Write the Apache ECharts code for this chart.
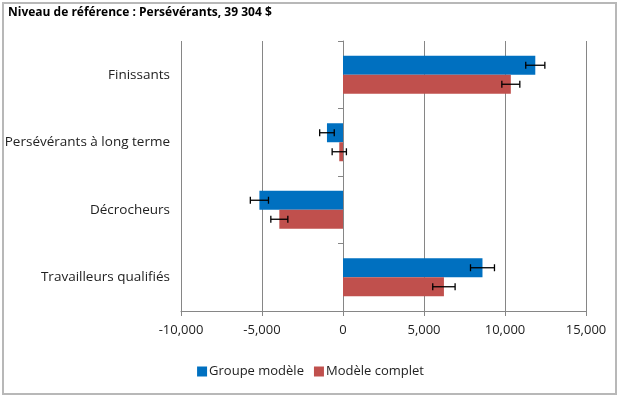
<!DOCTYPE html>
<html>
<head>
<meta charset="utf-8">
<script src="https://cdn.jsdelivr.net/npm/echarts@6/dist/echarts.min.js"></script>
<style>
  html, body { margin: 0; padding: 0; background: #fff; }
  #frame { position: absolute; left: 2px; top: 2px; width: 611px; height: 389px; border: 2px solid #b8b8b8; }
  #chart { position: absolute; left: 0; top: 0; width: 621px; height: 398px; }
</style>
</head>
<body>
<div id="frame"></div>
<div id="chart"></div>
<script>
var categories = ['Finissants', 'Persévérants à long terme', 'Décrocheurs', 'Travailleurs qualifiés'];
var groupeModele = [11870, -990, -5160, 8610];
var groupeModeleErr = [590, 450, 560, 740];
var modeleComplet = [10360, -230, -3930, 6230];
var modeleCompletErr = [555, 440, 525, 690];
var xTicks = [-10000, -5000, 0, 5000, 10000, 15000];

var fontFam = '"Open Sans", "DejaVu Sans", sans-serif';
var barW = 19;

function errorSeries(name, vals, errs, shift) {
  var d = [];
  for (var i = 0; i < vals.length; i++) {
    d.push([i, vals[i] - errs[i], vals[i] + errs[i]]);
  }
  return {
    name: name + ' err',
    type: 'custom',
    yAxisIndex: 0,
    silent: true,
    z: 10,
    data: d,
    encode: { x: [1, 2], y: 0 },
    renderItem: function (params, api) {
      var cat = api.value(0);
      var lo = api.coord([api.value(1), cat]);
      var hi = api.coord([api.value(2), cat]);
      var y = lo[1] + shift;
      var h = 3.5;
      var st = { stroke: '#000', lineWidth: 1.3 };
      return {
        type: 'group',
        children: [
          { type: 'line', shape: { x1: lo[0], y1: y, x2: hi[0], y2: y }, style: st },
          { type: 'line', shape: { x1: lo[0], y1: y - h, x2: lo[0], y2: y + h }, style: st },
          { type: 'line', shape: { x1: hi[0], y1: y - h, x2: hi[0], y2: y + h }, style: st }
        ]
      };
    }
  };
}

var myChart = echarts.init(document.getElementById('chart'));
var option = {
  animation: false,
  title: {
    text: 'Niveau de référence : Persévérants, 39 304 $',
    left: 8, top: 7, padding: 0,
    textStyle: { fontFamily: fontFam, fontSize: 12, fontWeight: 'bold', color: '#000' }
  },
  legend: {
    data: ['Groupe modèle', 'Modèle complet'],
    bottom: 15,
    left: 'center',
    itemWidth: 10, itemHeight: 10, itemGap: 10,
    icon: 'rect',
    textStyle: { fontFamily: fontFam, fontSize: 13, color: '#222', padding: [0, 0, 0, -3] }
  },
  grid: { left: 181, right: 35, top: 41, bottom: 87, containLabel: false },
  xAxis: {
    type: 'value',
    min: -10000, max: 15000, interval: 5000,
    axisLine: { show: true, onZero: false, lineStyle: { color: '#868686' } },
    axisTick: { show: true, length: 5, lineStyle: { color: '#868686' } },
    splitLine: { show: true, lineStyle: { color: '#868686', width: 1 } },
    axisLabel: {
      fontFamily: fontFam, fontSize: 13, color: '#222', margin: 13,
      formatter: function (v) { return xTicks.indexOf(v) >= 0 ? v.toLocaleString('en-US') : ''; }
    }
  },
  yAxis: [{
    type: 'category',
    data: categories,
    inverse: true,
    axisLine: { show: true, onZero: true, lineStyle: { color: '#868686' } },
    axisTick: { show: true, length: 5, lineStyle: { color: '#868686' } },
    axisLabel: { show: false },
    splitLine: { show: false }
  }, {
    type: 'category',
    data: categories,
    inverse: true,
    position: 'left',
    axisLine: { show: false, onZero: false },
    axisTick: { show: false },
    axisLabel: { fontFamily: fontFam, fontSize: 13.5, color: '#222', margin: 11 }
  }],
  series: [{
    name: 'Groupe modèle',
    type: 'bar',
    yAxisIndex: 0,
    barWidth: barW,
    barGap: '0%',
    itemStyle: { color: '#0070C0' },
    data: groupeModele
  }, {
    name: 'Modèle complet',
    type: 'bar',
    yAxisIndex: 0,
    barWidth: barW,
    barGap: '0%',
    itemStyle: { color: '#C0504D' },
    data: modeleComplet
  },
  errorSeries('Groupe modèle', groupeModele, groupeModeleErr, -barW / 2),
  errorSeries('Modèle complet', modeleComplet, modeleCompletErr, barW / 2)
  ]
};
myChart.setOption(option);
</script>
</body>
</html>
